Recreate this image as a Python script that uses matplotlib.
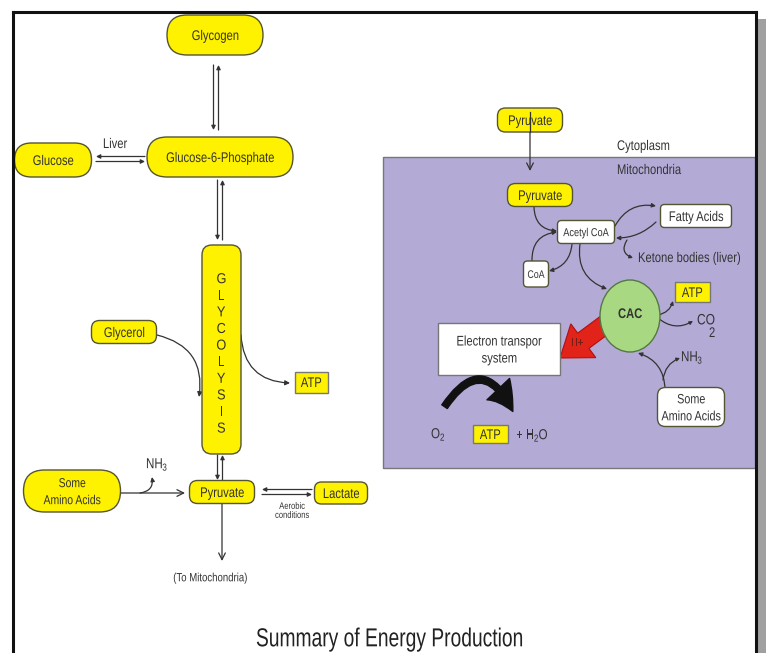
import matplotlib
matplotlib.use("Agg")
from matplotlib import pyplot as plt
from matplotlib.font_manager import FontProperties
from matplotlib.textpath import TextPath
from matplotlib.transforms import Affine2D
from matplotlib.patches import (FancyBboxPatch, Rectangle, Ellipse, FancyArrow,
                                FancyArrowPatch, PathPatch)

# ---- diagram text ----
title = 'Summary of Energy Production'
left_nodes = ['Glycogen', 'Glucose-6-Phosphate', 'Glucose', 'Glycerol', 'Pyruvate', 'Lactate', 'Some\nAmino Acids']
glyco_letters = list('GLYCOLYSIS')
right_yellow = ['Pyruvate', 'Pyruvate']
right_white = ['Acetyl CoA', 'Fatty Acids', 'CoA', 'Some\nAmino Acids']
ets_label = 'Electron transpor\nsystem'
small_labels = ['Liver', 'Aerobic\nconditions', '(To Mitochondria)', 'Cytoplasm', 'Mitochondria',
                'Ketone bodies (liver)']

FP = FontProperties(family='Liberation Sans')
FPB = FontProperties(family='Liberation Sans', weight='bold')

YEL = '#fff200'
EDGE = '#555533'
TXT = '#333333'
PURPLE = '#b3abd6'
GREEN = '#a9d883'

fig = plt.figure(figsize=(7.67, 6.53), dpi=100)
ax = fig.add_axes([0, 0, 1, 1])
ax.set_xlim(0, 767)
ax.set_ylim(653, 0)
ax.axis('off')


def label(x, y, s, size=14, sx=0.8, ha='center', color=TXT, bold=False, z=6, gap=17):
    # condensed text drawn as paths; y is the vertical centre of the text block
    lines = s.split('\n')
    y0 = y - gap * (len(lines) - 1) / 2
    for i, ln in enumerate(lines):
        tp = TextPath((0, 0), ln, size=size, prop=FPB if bold else FP)
        w = tp.get_extents().x1 * sx
        if ha == 'center':
            x0 = x - w / 2
        elif ha == 'right':
            x0 = x - w
        else:
            x0 = x
        base = y0 + i * gap + 0.358 * size
        tr = Affine2D().scale(sx, -1).translate(x0, base)
        ax.add_patch(PathPatch(tr.transform_path(tp), fc=color, ec='none', lw=0, zorder=z))
    return x0 + w


def sub(x, y, main, s, size=14, dy=4, color=TXT):
    end = label(x, y, main, size=size, ha='left', color=color)
    return label(end + 0.5, y + dy, s, size=size * 0.7, ha='left', color=color)


def box(cx, cy, w, h, text, fc=YEL, r=None, fs=14, ec=EDGE, lw=1.0):
    if r is None:
        r = h / 2
    ax.add_patch(FancyBboxPatch((cx - w / 2, cy - h / 2), w, h,
                                boxstyle=f'round,pad=0,rounding_size={r}',
                                fc=fc, ec=ec, lw=lw, zorder=3))
    label(cx, cy, text, size=fs)


def rect(cx, cy, w, h, text, fc=YEL, fs=14, ec='#777777'):
    ax.add_patch(Rectangle((cx - w / 2, cy - h / 2), w, h, fc=fc, ec=ec, lw=1.0, zorder=3))
    label(cx, cy, text, size=fs)


def arr(x1, y1, x2, y2, rad=0.0, style='-|>', ms=7, lw=0.9, color='#333333'):
    ax.add_patch(FancyArrowPatch((x1, y1), (x2, y2), arrowstyle=style, mutation_scale=ms,
                                 connectionstyle=f'arc3,rad={rad}', lw=lw, color=color,
                                 shrinkA=0, shrinkB=0, zorder=2))


def equil(x1, y1, x2, y2, off=2.5):
    # two parallel lines, opposite arrowheads
    dx, dy = x2 - x1, y2 - y1
    L = (dx * dx + dy * dy) ** 0.5
    nx, ny = -dy / L * off, dx / L * off
    arr(x1 + nx, y1 + ny, x2 + nx, y2 + ny, ms=6)
    arr(x2 - nx, y2 - ny, x1 - nx, y1 - ny, ms=6)


# ---- frame ----
ax.add_patch(Rectangle((757, 19), 9, 640, fc='#a0a0a0', ec='none', zorder=0))
ax.plot([13, 756], [12, 12], color='#111111', lw=2.2, zorder=7)
ax.plot([13, 13], [12, 653], color='#111111', lw=2.2, zorder=7)
ax.plot([756, 756], [12, 653], color='#111111', lw=2.2, zorder=7)

# ---- left side ----
box(215, 35, 96, 40, left_nodes[0])
box(220, 157, 146, 40, left_nodes[1])
box(53, 160, 77, 34, left_nodes[2])
box(124, 332, 65, 23, left_nodes[3], r=8)
box(222, 492, 65, 23, left_nodes[4], r=8)
box(341, 493, 53, 22, left_nodes[5], r=7)
box(72, 491, 97, 42, left_nodes[6], fs=13)

# glycolysis column
ax.add_patch(FancyBboxPatch((202, 245), 39, 209, boxstyle='round,pad=0,rounding_size=10',
                            fc=YEL, ec=EDGE, lw=1.0, zorder=3))
for i, ch in enumerate(glyco_letters):
    label(221, 278 + i * 16.6, ch, size=14.5, sx=0.88)

equil(216, 130, 216, 65)
equil(96, 159, 145, 159)
label(115, 143, small_labels[0], size=14)
equil(220, 240, 220, 180)
equil(220, 480, 220, 455)
equil(262, 492, 312, 492)
label(292, 510, small_labels[1], size=9.5, gap=9)

rect(311, 382, 33, 21, 'ATP')
arr(157, 335, 199, 397, rad=-0.45)
arr(241, 335, 290, 383, rad=0.45)

# amino acids -> pyruvate
arr(120, 493, 185, 493, style='->', ms=12)
arr(140, 493, 152, 477, rad=0.5, ms=6)
sub(146, 463, 'NH', '3', size=14.5)

arr(222, 504, 222, 561, style='->', ms=12)
label(210, 577, small_labels[2], size=12)

label(389, 637, title, size=26, sx=0.74, color='#222222')

# ---- right side ----
ax.add_patch(Rectangle((383, 157), 372, 311, fc=PURPLE, ec='#777777', lw=1.0, zorder=1))
box(530, 120, 65, 24, right_yellow[0], r=8)
arr(530, 112, 530, 171, style='->', ms=12)
ax.plot([530, 530], [112, 132], color='#333333', lw=0.9, zorder=7)
label(617, 145, small_labels[3], ha='left', size=14)
label(617, 169, small_labels[4], ha='left', size=14)

box(540, 195, 65, 23, right_yellow[1], r=8)
box(586, 232, 57, 23, right_white[0], fc='white', r=4, fs=11.5)
box(696, 216, 71, 23, right_white[1], fc='white', r=4)
box(536, 274, 25, 26, right_white[2], fc='white', r=4, fs=11)
box(691, 407, 67, 39, right_white[3], fc='white', r=8, fs=13.5)
label(638, 257, small_labels[5], ha='left', size=14)

ax.add_patch(Ellipse((630, 316), 60, 72, fc=GREEN, ec='#557744', lw=1.0, zorder=3))
label(630, 313, 'CAC', size=14, bold=True)
rect(692, 292, 35, 20, 'ATP')
label(697, 319, 'CO', ha='left', size=15)
label(709, 332, '2', ha='left', size=14)

rect(499, 349, 122, 52, ets_label, fc='white', fs=14)
ax.add_patch(FancyArrow(610, 321, -50, 37, width=19, head_width=42, head_length=29,
                        length_includes_head=True, fc='#e2231a', ec='#b01010', lw=0.8, zorder=2.5))
label(577, 342, 'H+', size=12, color='#7a1a10')

# pathways around acetyl CoA
arr(534, 207, 557, 231, rad=0.45, ms=6)
arr(532, 261, 557, 232, rad=-0.45, ms=6)
arr(572, 244, 549, 271, rad=-0.35, ms=6)
arr(580, 244, 607, 289, rad=0.4, ms=6)
arr(615, 226, 656, 206, rad=-0.35, ms=6)
arr(656, 222, 616, 238, rad=-0.2, ms=6)
arr(627, 240, 633, 258, rad=0.6, ms=5)
arr(658, 315, 673, 301, rad=0.3, ms=5)
arr(658, 318, 693, 321, rad=0.35, ms=5)
arr(665, 389, 638, 353, rad=0.35, ms=6)
arr(663, 380, 680, 358, rad=-0.3, ms=5)
sub(681, 356, 'NH', '3', size=14.5)

# big black curved arrow
ax.add_patch(FancyArrowPatch((443, 409), (514, 414), connectionstyle='arc3,rad=-0.9',
                             arrowstyle='simple,tail_width=0.3,head_width=1.4,head_length=1.2',
                             mutation_scale=16, fc='#111111', ec='#111111', lw=1, zorder=3))
sub(431, 433, 'O', '2', size=14.5)
rect(490, 434, 35, 18, 'ATP')
end = sub(516, 434, '+ H', '2', size=14.5)
label(end + 0.5, 434, 'O', ha='left', size=14.5)

fig.savefig('out.png', dpi=100)
